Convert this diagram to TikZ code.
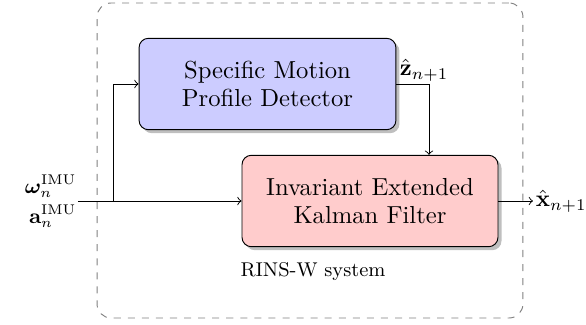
\documentclass[tikz,border=0pt]{standalone}
\usepackage{amsmath,bm}
\usetikzlibrary{shadows,arrows}
\begin{document}
\begin{tikzpicture}[x=0.4266pt,y=-0.4266pt,
  blk/.style={draw=black,rounded corners=4pt,align=center,text width=100pt,
    minimum height=39pt,inner sep=2pt,font=\fontsize{10.5}{12}\selectfont,
    drop shadow={shadow xshift=1.5pt,shadow yshift=-1.5pt,fill=black!25,opacity=1}},
  conn/.style={->,line width=0.4pt},
  lbl/.style={inner sep=1pt},
  inl/.style={inner sep=0pt,anchor=east,font=\fontsize{9}{10}\selectfont}]
\useasboundingbox (0,0) rectangle (586,325);
\node[draw=black!50,dashed,rounded corners=6pt,minimum width=181.7pt,minimum height=134.4pt] (sys) at (310,160.5) {};
\node[blk,fill=blue!20,minimum width=109.6pt] (smpd) at (267.5,84) {Specific Motion\\Profile Detector};
\node[blk,fill=red!20,minimum width=109.2pt] (ief) at (370,201) {Invariant Extended\\Kalman Filter};
\node[font=\fontsize{8.5}{10}\selectfont] (syslbl) at (313,272) {RINS-W system};
\coordinate (in) at (78,201);
\coordinate (br) at (113,201);
\coordinate (zc) at (429,0);
\coordinate (out) at (533,201);
\node[inl] (wlbl) at (77,186) {$\bm{\omega}_{n\vphantom{I}}^{\mathrm{IMU}}$};
\node[inl] (albl) at (77,216) {$\mathbf{a}_{n\vphantom{I}}^{\mathrm{IMU}}$};
\node[lbl,anchor=west] (zlbl) at (397,70) {$\hat{\mathbf{z}}_{n+1}$};
\node[lbl,anchor=west] (xlbl) at (out) {$\hat{\mathbf{x}}_{n+1}$};
\draw (in) -- (br);
\draw[conn] (br) -- (ief.west);
\draw[conn] (br) |- (smpd.west);
\draw[conn] (smpd.east) -| (ief.north -| zc);
\draw[conn] (ief.east) -- (out);
\end{tikzpicture}
\end{document}
